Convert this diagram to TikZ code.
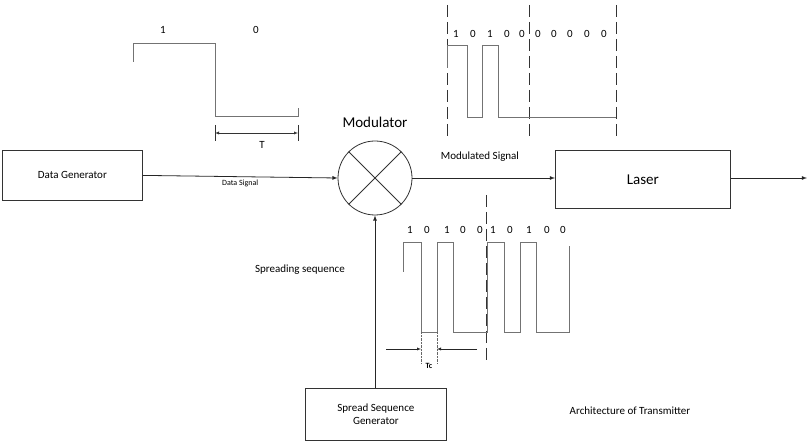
\documentclass[tikz,border=0pt]{standalone}
\usepackage{fontspec}
\setmainfont{Carlito}
\begin{document}
\begin{tikzpicture}[x=1pt,y=-1pt,
  box/.style={draw=black!80,thick,minimum height=50pt},
  wave/.style={draw=black!55,thick},
  dashl/.style={draw=black!80,thick,dash pattern=on 12pt off 5pt},
  arr/.style={draw=black!85,thick,-latex},
  lbl/.style={font=\fontsize{10}{12}\selectfont},
  bit/.style={font=\fontsize{11}{12}\selectfont}]
\useasboundingbox (0,0) rectangle (807,446);
\node[box,minimum width=140pt,anchor=north west,font=\fontsize{11}{13}\selectfont] (dg) at (2,150) {Data Generator};
\node[box,minimum width=175pt,minimum height=58pt,anchor=north west,font=\fontsize{15}{17}\selectfont] (laser) at (555,150) {Laser};
\node[box,minimum width=141pt,minimum height=52pt,anchor=north west,align=center,font=\fontsize{11}{13}\selectfont] (ssg) at (305,388) {Spread Sequence\\Generator};
\node[circle,draw=black!80,thick,minimum size=74pt] (mod) at (375,178) {};
\draw[black!80,thick] (mod.45)--(mod.225) (mod.135)--(mod.315);
\node[font=\fontsize{15}{17}\selectfont] (modl) at (375,122) {Modulator};
\coordinate (out) at (807,178);
\draw[arr] (dg.east) -- (mod.west) node[midway,below,font=\fontsize{8}{10}\selectfont] {Data Signal};
\draw[arr] (mod.east) -- (laser.west |- mod.east);
\node[font=\fontsize{11}{13}\selectfont] (ms) at (480,157) {Modulated Signal};
\draw[arr] (laser.east |- out) -- (out);
\draw[arr] (ssg.north -| mod.south) -- (mod.south);
\node[font=\fontsize{11}{13}\selectfont] (ss) at (300,270) {Spreading sequence};
\node[font=\fontsize{11}{13}\selectfont] (arch) at (630,411) {Architecture of Transmitter};
% top-left waveform
\draw[wave] (133,62)--(133,43)--(215,43)--(215,116)--(298,116)--(298,108);
\node[bit] (b1) at (163,30) {1};
\node[bit] (b0) at (256,30) {0};
\draw[black!80] (215,125)--(215,141) (298,125)--(298,141);
\draw[black!80,latex-latex] (215,133)--(298,133);
\node[bit] (tl) at (262,145) {T};
% top right waveform
\foreach \x in {447,529,616} \draw[dashl] (\x,5)--(\x,140);
\draw[wave] (447,68)--(447,45)--(467,45)--(467,117)--(482,117)--(482,45)--(498,45)--(498,117)--(616,117);
\foreach \x/\b in {456/1,473/0,490/1,507/0,522/0,538/0,554/0,570/0,587/0,604/0} \node[bit] at (\x,34) {\b};
% bottom waveform
\draw[dashl] (486,195)--(486,362);
\draw[wave] (403,272)--(403,242)--(421,242)--(421,332)--(437,332)--(437,242)--(453,242)--(453,332)--(487,332)--(487,242)--(504,242)--(504,332)--(520,332)--(520,242)--(536,242)--(536,332)--(569,332)--(569,246);
\foreach \x/\b in {410/1,427/0,447/1,463/0,480/0,493/1,510/0,529/1,547/0,563/0} \node[bit] at (\x,230) {\b};
\draw[black!60,densely dotted] (421,332)--(421,364) (437,332)--(437,364);
\draw[black!85,-latex] (386,349)--(421,349);
\draw[black!85,-latex] (477,349)--(437,349);
\node[font=\bfseries\fontsize{8}{9}\selectfont] (tc) at (429,366) {Tc};
\end{tikzpicture}
\end{document}
